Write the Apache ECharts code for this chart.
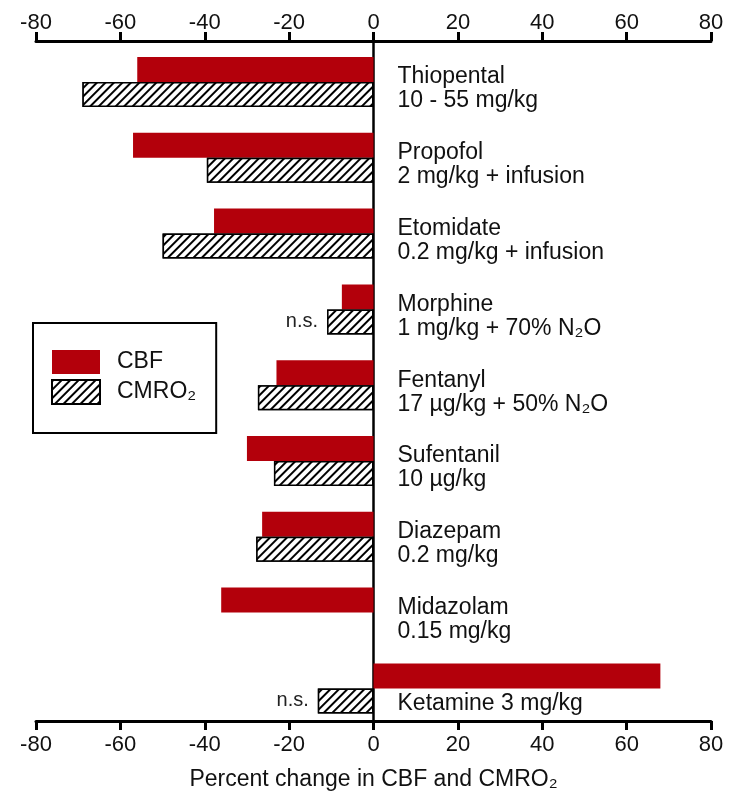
<!DOCTYPE html>
<html>
<head>
<meta charset="utf-8">
<script src="https://cdn.jsdelivr.net/npm/echarts@6/dist/echarts.min.js"></script>
<style>html,body{margin:0;padding:0;background:#fff}#c{width:730px;height:797px}</style>
</head>
<body>
<div id="c"></div>
<script>
// ---- data ----
var categories = [
  'Thiopental\n10 - 55 mg/kg',
  'Propofol\n2 mg/kg + infusion',
  'Etomidate\n0.2 mg/kg + infusion',
  'Morphine\n1 mg/kg + 70% N\u2082O',
  'Fentanyl\n17 \u00b5g/kg + 50% N\u2082O',
  'Sufentanil\n10 \u00b5g/kg',
  'Diazepam\n0.2 mg/kg',
  'Midazolam\n0.15 mg/kg',
  'Ketamine 3 mg/kg'
];
var cbf    = [-56, -57, -37.8, -7.5, -23, -30, -26.4, -36.1, 68];
var cmro2  = [-69, -39.5, -50, -11, -27.4, -23.6, -27.8, null, -13.2];
var cmro2NotSig = [false, false, false, true, false, false, false, false, true];
var xTicks = [-80, -60, -40, -20, 0, 20, 40, 60, 80];
var seriesNames = ['CBF', 'CMRO\u2082'];
var xTitle = 'Percent change in CBF and CMRO\u2082';

var FONT = '"Liberation Sans", Arial, sans-serif';
var cmroData = cmro2.map(function (v, i) {
  if (v === null) return null;
  if (cmro2NotSig[i]) {
    return { value: v, label: { show: true, position: 'left', distance: 9, formatter: 'n.s.',
      color: '#222', fontSize: 20, fontFamily: FONT } };
  }
  return v;
});
// single-line labels sit below their category centre (as in the source figure)
var labelItems = categories.map(function (c) {
  return c.indexOf('\n') < 0 ? { value: c, textStyle: { verticalAlign: 'top', lineHeight: 16 } } : c;
});

var GL = 36, GR = 19;
var zeroOffset = -(730 - GL - GR) * (0 - xTicks[0]) / (xTicks[xTicks.length - 1] - xTicks[0]);

var axisCommon = {
  type: 'value', min: xTicks[0], max: xTicks[xTicks.length - 1], interval: 20,
  gridIndex: 0,
  axisLine: { show: true, onZero: false, lineStyle: { color: '#000', width: 3 } },
  axisTick: { show: true, length: 9, lineStyle: { color: '#000', width: 3 } },
  splitLine: { show: false },
  axisLabel: { color: '#111', fontSize: 22, fontFamily: FONT }
};

var chart = echarts.init(document.getElementById('c'), null, { renderer: 'canvas' });
chart.setOption({
  animation: false,
  backgroundColor: '#fff',
  grid: [
    { left: GL, right: GR, top: 41, bottom: 76 },
    { left: GL, right: GR, top: 44.1, bottom: 70.7 },
    { left: GL, right: GR, top: 51.1, bottom: 63.7 }
  ],
  legend: {
    data: seriesNames,
    orient: 'vertical',
    left: 33, top: 323,
    padding: [27, 20, 28, 18],
    itemWidth: 48, itemHeight: 24, itemGap: 5,
    borderColor: '#000', borderWidth: 2,
    icon: 'rect',
    textStyle: { color: '#111', fontSize: 23, fontFamily: FONT, padding: [0, 0, 0, 12] }
  },
  xAxis: [
    Object.assign({}, axisCommon, { position: 'top', axisLabel: Object.assign({}, axisCommon.axisLabel, { margin: 7 }) }),
    Object.assign({}, axisCommon, {
      position: 'bottom',
      axisLabel: Object.assign({}, axisCommon.axisLabel, { margin: 13 }),
      name: xTitle, nameLocation: 'middle', nameGap: 47,
      nameTextStyle: { color: '#111', fontSize: 23, fontFamily: FONT }
    }),
    { type: 'value', gridIndex: 1, min: xTicks[0], max: xTicks[xTicks.length - 1], show: false },
    { type: 'value', gridIndex: 2, min: xTicks[0], max: xTicks[xTicks.length - 1], show: false }
  ],
  yAxis: [
    { type: 'value', gridIndex: 0, min: 0, max: 1,
      axisLine: { show: true, onZero: true, lineStyle: { color: '#000', width: 2.5 } },
      axisTick: { show: false }, axisLabel: { show: false }, splitLine: { show: false } },
    { type: 'category', gridIndex: 1, inverse: true, data: categories, show: false },
    { type: 'category', gridIndex: 2, inverse: true, data: labelItems,
      offset: zeroOffset,
      axisLine: { show: false, onZero: false },
      axisTick: { show: false }, splitLine: { show: false },
      axisLabel: { inside: true, margin: 24, align: 'left', color: '#111', fontSize: 23,
        fontFamily: FONT, lineHeight: 24 } }
  ],
  series: [
    { name: seriesNames[0], type: 'bar', xAxisIndex: 2, yAxisIndex: 1, data: cbf,
      barWidth: 25, barGap: '0%',
      itemStyle: { color: '#b3000b' } },
    { name: seriesNames[1], type: 'bar', xAxisIndex: 2, yAxisIndex: 1, data: cmroData,
      barWidth: 25, barGap: '0%',
      itemStyle: { color: '#fff', borderColor: '#000', borderWidth: 1.5,
        decal: { symbol: 'rect', symbolSize: 1, dashArrayX: [1, 0], dashArrayY: [2, 4],
          rotation: -Math.PI / 4, color: '#000', backgroundColor: '#fff' } } }
  ]
});
</script>
</body>
</html>
